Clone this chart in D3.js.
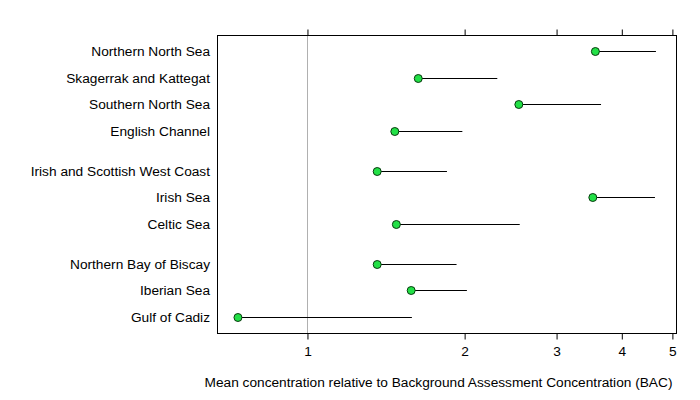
<!DOCTYPE html>
<html>
<head>
<meta charset="utf-8">
<script src="https://cdn.jsdelivr.net/npm/d3@7"></script>
<style>
  body { margin: 0; background: #fff; }
  text { font-family: "Liberation Sans", Arial, sans-serif; font-size: 13.7px; fill: #000; }
</style>
</head>
<body>
<svg width="700" height="400"></svg>
<script>
// regions, top to bottom; pos = row slot (gaps between groups)
var regions = ["Northern North Sea", "Skagerrak and Kattegat", "Southern North Sea", "English Channel",
  "Irish and Scottish West Coast", "Irish Sea", "Celtic Sea",
  "Northern Bay of Biscay", "Iberian Sea", "Gulf of Cadiz"];
var rowPos = [0, 1, 2, 3, 4.5, 5.5, 6.5, 8, 9, 10];
var meanVal = [3.56, 1.63, 2.54, 1.47, 1.36, 3.52, 1.48, 1.36, 1.58, 0.736];
var upperVal = [4.65, 2.31, 3.65, 1.98, 1.85, 4.63, 2.55, 1.93, 2.02, 1.585];
var xTicks = [1, 2, 3, 4, 5];
var refLine = 1;

(function () {
  var svg = d3.select("svg"),
    left = 217, right = 676, top = 35, bottom = 333;

  var x = d3.scaleLog()
    .domain([0.671, 5.08])
    .range([left, right]);

  var y = d3.scaleLinear()
    .domain([-0.6, 10.6])
    .range([top, bottom]);

  function yc(p) { return Math.round(y(p)) + 0.5; }

  // reference line at 1
  svg.append("line")
    .attr("x1", Math.round(x(refLine)) + 0.5).attr("x2", Math.round(x(refLine)) + 0.5)
    .attr("y1", top).attr("y2", bottom)
    .attr("stroke", "#b0b0b0").attr("stroke-width", 1);

  // axes
  var xAxis = svg.append("g")
    .attr("transform", "translate(0," + (bottom + 0.5) + ")")
    .call(d3.axisBottom(x).tickValues(xTicks).tickFormat(d3.format("d")).tickSize(6).tickPadding(7));
  var xTop = svg.append("g")
    .attr("transform", "translate(0," + (top + 0.5) + ")")
    .call(d3.axisTop(x).tickValues(xTicks).tickFormat("").tickSize(6));
  [xAxis, xTop].forEach(function (g) {
    g.select(".domain").remove();
    g.selectAll("line").attr("stroke", "#000");
    g.selectAll("text").style("font-size", "13.7px").style("font-family", "Liberation Sans, Arial, sans-serif");
  });

  // frame
  svg.append("rect")
    .attr("x", left + 0.5).attr("y", top + 0.5)
    .attr("width", right - left).attr("height", bottom - top)
    .attr("fill", "none").attr("stroke", "#000").attr("stroke-width", 1);

  var rows = regions.map(function (r, i) {
    return { name: r, pos: rowPos[i], mean: meanVal[i], upper: upperVal[i] };
  });

  // labels
  svg.append("g").selectAll("text")
    .data(rows)
    .enter().append("text")
    .attr("x", 210)
    .attr("y", function (d) { return y(d.pos); })
    .attr("dy", ".36em")
    .attr("text-anchor", "end")
    .text(function (d) { return d.name; });

  // whiskers
  svg.append("g").selectAll("line")
    .data(rows)
    .enter().append("line")
    .attr("x1", function (d) { return x(d.mean); })
    .attr("x2", function (d) { return x(d.upper); })
    .attr("y1", function (d) { return yc(d.pos); })
    .attr("y2", function (d) { return yc(d.pos); })
    .attr("stroke", "#000").attr("stroke-width", 1);

  // points
  svg.append("g").selectAll("circle")
    .data(rows)
    .enter().append("circle")
    .attr("cx", function (d) { return x(d.mean); })
    .attr("cy", function (d) { return yc(d.pos); })
    .attr("r", 4)
    .attr("fill", "#22e046")
    .attr("stroke", "#0a3a10").attr("stroke-width", 1);

  svg.append("text")
    .attr("x", (left + right) / 2 - 8)
    .attr("y", 387)
    .attr("text-anchor", "middle")
    .text("Mean concentration relative to Background Assessment Concentration (BAC)");
})();
</script>
</body>
</html>
